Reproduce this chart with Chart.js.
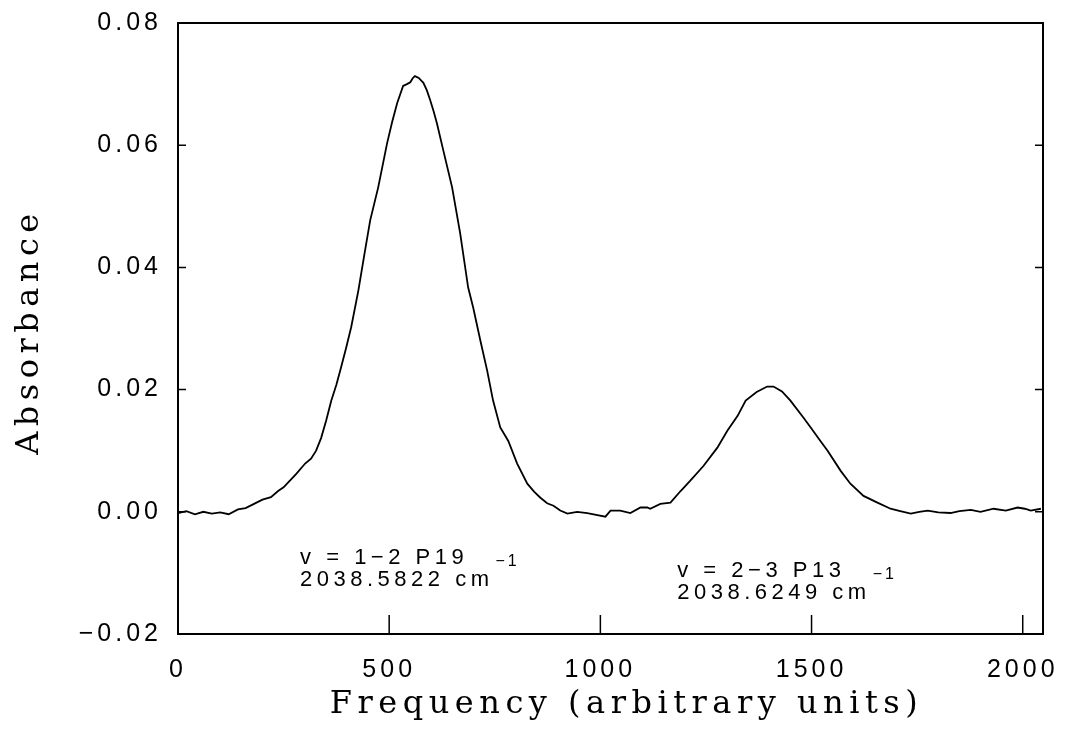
<!DOCTYPE html>
<html>
<head>
<meta charset="utf-8">
<script src="https://cdn.jsdelivr.net/npm/chart.js@4"></script>
<style>
  html, body { margin: 0; padding: 0; background: #fff; }
  #wrap { width: 1065px; height: 729px; }
</style>
</head>
<body>
<div id="wrap"><canvas id="spectrum"></canvas></div>
<script>
// values
const frequency = [
    0, 20, 40, 60, 80, 100, 120, 142, 160, 180, 200, 220, 237, 250, 261, 280,
    301, 315, 327, 339, 351, 363, 375, 386, 398, 410, 427, 441, 455, 474, 495,
    507, 519, 533, 542, 550, 556, 561, 570, 581, 589, 597, 605, 613, 628, 649,
    668, 687, 699, 716, 732, 746, 763, 782, 803, 827, 843, 858, 874, 889, 905,
    922, 945, 969, 990, 1012, 1024, 1047, 1071, 1095, 1111, 1118, 1142, 1166,
    1190, 1213, 1244, 1277, 1301, 1325, 1344, 1370, 1395, 1410, 1430, 1450,
    1481, 1498, 1521, 1538, 1569, 1592, 1623, 1656, 1687, 1710, 1735, 1755,
    1775, 1800, 1829, 1850, 1877, 1900, 1931, 1960, 1988, 2005, 2019, 2043
];
const absorbance = [
    -0.0002, 0.0001, -0.0004, 0.0000, -0.0003, -0.0001, -0.0004, 0.0004, 0.0006,
    0.0013, 0.0020, 0.0024, 0.0034, 0.0040, 0.0048, 0.0062,
    0.0079, 0.0087, 0.0100, 0.0121, 0.0150, 0.0182, 0.0208, 0.0236, 0.0268,
    0.0302, 0.0362, 0.0420, 0.0477, 0.0531, 0.0603,
    0.0638, 0.0669, 0.0697, 0.0700, 0.0703, 0.0710, 0.0713, 0.0710, 0.0702,
    0.0690, 0.0674, 0.0656, 0.0636, 0.0592, 0.0531,
    0.0456, 0.0367, 0.0334, 0.0280, 0.0231, 0.0182, 0.0138, 0.0116, 0.0079,
    0.0046, 0.0033, 0.0023, 0.0014, 0.0010, 0.0002,
    -0.0003, 0.0000, -0.0002, -0.0005, -0.0008, 0.0002, 0.0002, -0.0002, 0.0007,
    0.0007, 0.0005, 0.0013, 0.0015,
    0.0034, 0.0051, 0.0075, 0.0105, 0.0133, 0.0157, 0.0182, 0.0196, 0.0205,
    0.0205, 0.0197, 0.0182,
    0.0154, 0.0138, 0.0116, 0.0100, 0.0067, 0.0046, 0.0026, 0.0015, 0.0005,
    0.0001, -0.0003, 0.0000,
    0.0002, -0.0001, -0.0002, 0.0001, 0.0003, 0.0000, 0.0005, 0.0002, 0.0007,
    0.0005, 0.0002, 0.0005
];

const xTicks = [0, 500, 1000, 1500, 2000];
const yTicks = [-0.02, 0.00, 0.02, 0.04, 0.06, 0.08];

// peak labels: [line1, line2, x, y of first baseline]
const peakLabels = [
    ['v = 1\u22122 P19', '2038.5822 cm', 289, -0.0086],
    ['v = 2\u22123 P13', '2038.6249 cm', 1182, -0.0106]
];

const xTitle = 'Frequency (arbitrary units)';
const yTitle = 'Absorbance';

const points = frequency.map((f, i) => ({ x: f, y: absorbance[i] }));

const TEXT_FONT = "'Liberation Sans', Arial, sans-serif";
const TITLE_FONT = "'DejaVu Serif', 'Liberation Serif', serif";

// letter spacing like the old plotter fonts
const spacing = {
    id: 'spacing',
    beforeDraw(chart) {
        chart.ctx.letterSpacing = '4px';
    }
};

// box frame, inward ticks, axis titles, peak annotations
const frame = {
    id: 'frame',
    afterDraw(chart) {
        const { ctx, chartArea: a, scales: { x, y } } = chart;
        ctx.save();
        ctx.strokeStyle = '#000';
        ctx.lineWidth = 2;
        ctx.strokeRect(a.left, a.top, a.right - a.left, a.bottom - a.top);

        ctx.lineWidth = 1.5;
        ctx.beginPath();
        xTicks.forEach(v => {
            const px = x.getPixelForValue(v);
            ctx.moveTo(px, a.bottom);
            ctx.lineTo(px, a.bottom - 19);
        });
        yTicks.forEach(v => {
            const py = y.getPixelForValue(v);
            ctx.moveTo(a.left, py);
            ctx.lineTo(a.left + 8, py);
            ctx.moveTo(a.right, py);
            ctx.lineTo(a.right - 8, py);
        });
        ctx.stroke();

        ctx.fillStyle = '#000';

        // axis titles
        ctx.font = '32px ' + TITLE_FONT;
        ctx.letterSpacing = '5.5px';
        ctx.textAlign = 'center';
        ctx.textBaseline = 'middle';
        ctx.fillText(xTitle, (a.left + a.right) / 2 + 16, 705);
        ctx.save();
        ctx.translate(30, (a.top + a.bottom) / 2 + 3);
        ctx.rotate(-Math.PI / 2);
        ctx.fillText(yTitle, 0, 0);
        ctx.restore();

        ctx.textBaseline = 'alphabetic';
        ctx.textAlign = 'left';
        peakLabels.forEach(([l1, l2, fx, fy]) => {
            const px = x.getPixelForValue(fx);
            const py = y.getPixelForValue(fy);
            ctx.letterSpacing = '4.5px';
            ctx.font = '22px ' + TEXT_FONT;
            ctx.fillText(l1, px, py);
            ctx.fillText(l2, px, py + 22);
            const w = ctx.measureText(l2).width;
            ctx.font = '16px ' + TEXT_FONT;
            ctx.letterSpacing = '3px';
            ctx.fillText('\u22121', px + w + 2, py + 2);
        });
        ctx.restore();
    }
};

new Chart(document.getElementById('spectrum'), {
    type: 'line',
    data: {
        datasets: [{
            data: points,
            borderColor: '#000',
            borderWidth: 1.8,
            pointRadius: 0,
            tension: 0,
            fill: false
        }]
    },
    options: {
        responsive: true,
        maintainAspectRatio: false,
        animation: false,
        layout: { padding: { top: 23, right: 22, left: 0, bottom: 0 } },
        plugins: {
            legend: { display: false },
            tooltip: { enabled: false }
        },
        scales: {
            x: {
                type: 'linear',
                min: 0,
                max: 2048,
                afterBuildTicks: s => { s.ticks = xTicks.map(v => ({ value: v })); },
                afterFit: s => {
                    s.height = 95;
                    s.paddingLeft = 0;
                    s.paddingRight = 0;
                },
                grid: { display: false, drawTicks: false },
                border: { display: false },
                ticks: {
                    color: '#000',
                    padding: 21,
                    font: { family: TEXT_FONT, size: 25 },
                    callback: v => String(v)
                },
                title: { display: false }
            },
            y: {
                min: -0.02,
                max: 0.08,
                afterBuildTicks: s => { s.ticks = yTicks.map(v => ({ value: v })); },
                afterFit: s => {
                    s.width = 178;
                    s.paddingTop = 0;
                    s.paddingBottom = 0;
                },
                grid: { display: false, drawTicks: false },
                border: { display: false },
                ticks: {
                    color: '#000',
                    padding: 16,
                    font: { family: TEXT_FONT, size: 25 },
                    callback: v => (v < 0 ? '\u2212' : '') + Math.abs(v).toFixed(2)
                },
                title: { display: false }
            }
        }
    },
    plugins: [spacing, frame]
});
</script>
</body>
</html>
